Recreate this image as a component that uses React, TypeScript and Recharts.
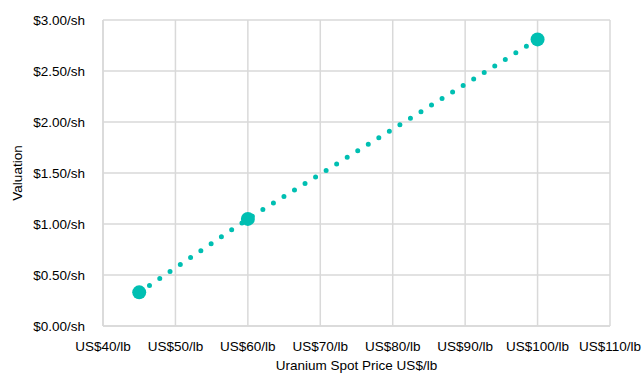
import { LineChart, Line, XAxis, YAxis, CartesianGrid } from 'recharts'

// Uranium spot price (US$/lb) vs. valuation per share
const prices = [45, 60, 100]
const valuations = [0.33, 1.05, 2.81]

const xTicks = [40, 50, 60, 70, 80, 90, 100, 110]
const yTicks = [0, 0.5, 1, 1.5, 2, 2.5, 3]

const TEAL = '#00bfb2'
const GRID = '#d9d9d9'
const FONT = '"Liberation Sans", Arial, Helvetica, sans-serif'

const data = prices.map((p, i) => ({ price: p, value: valuations[i] }))

function BigDot({ cx, cy }: any) {
  if (cx == null || cy == null) return null
  return <circle cx={cx} cy={cy} r={7} fill={TEAL} />
}

export default function App() {
  return (
    <div style={{ position: 'absolute', left: 0, top: 0, background: '#fff' }}>
      <LineChart
        width={644}
        height={374}
        data={data}
        margin={{ top: 20, right: 34, bottom: 0, left: 0 }}
        style={{ fontFamily: FONT }}
      >
        <CartesianGrid stroke={GRID} strokeWidth={1.5} />
        <XAxis
          dataKey="price"
          type="number"
          domain={[40, 110]}
          ticks={xTicks}
          interval={0}
          height={48}
          tickLine={false}
          axisLine={{ stroke: GRID, strokeWidth: 1.5 }}
          tickMargin={9}
          tick={{ fill: '#000', fontSize: 13.5 }}
          tickFormatter={(v) => `US$${v}/lb`}
          label={{
            value: 'Uranium Spot Price US$/lb',
            position: 'insideBottom',
            offset: 4,
            style: { fill: '#000', fontSize: 13.5 },
          }}
        />
        <YAxis
          type="number"
          domain={[0, 3]}
          ticks={yTicks}
          interval={0}
          width={103}
          tickLine={false}
          axisLine={{ stroke: GRID, strokeWidth: 1.5 }}
          tickMargin={12}
          tick={{ fill: '#000', fontSize: 13.5 }}
          tickFormatter={(v) => `$${v.toFixed(2)}/sh`}
          label={{
            value: 'Valuation',
            angle: -90,
            position: 'insideLeft',
            offset: 17,
            style: { fill: '#000', fontSize: 13.5, textAnchor: 'middle' },
          }}
        />
        <Line
          type="linear"
          dataKey="value"
          stroke={TEAL}
          strokeWidth={5}
          strokeLinecap="round"
          strokeDasharray="0 12.4"
          dot={<BigDot />}
          activeDot={false}
          isAnimationActive={false}
        />
      </LineChart>
    </div>
  )
}
